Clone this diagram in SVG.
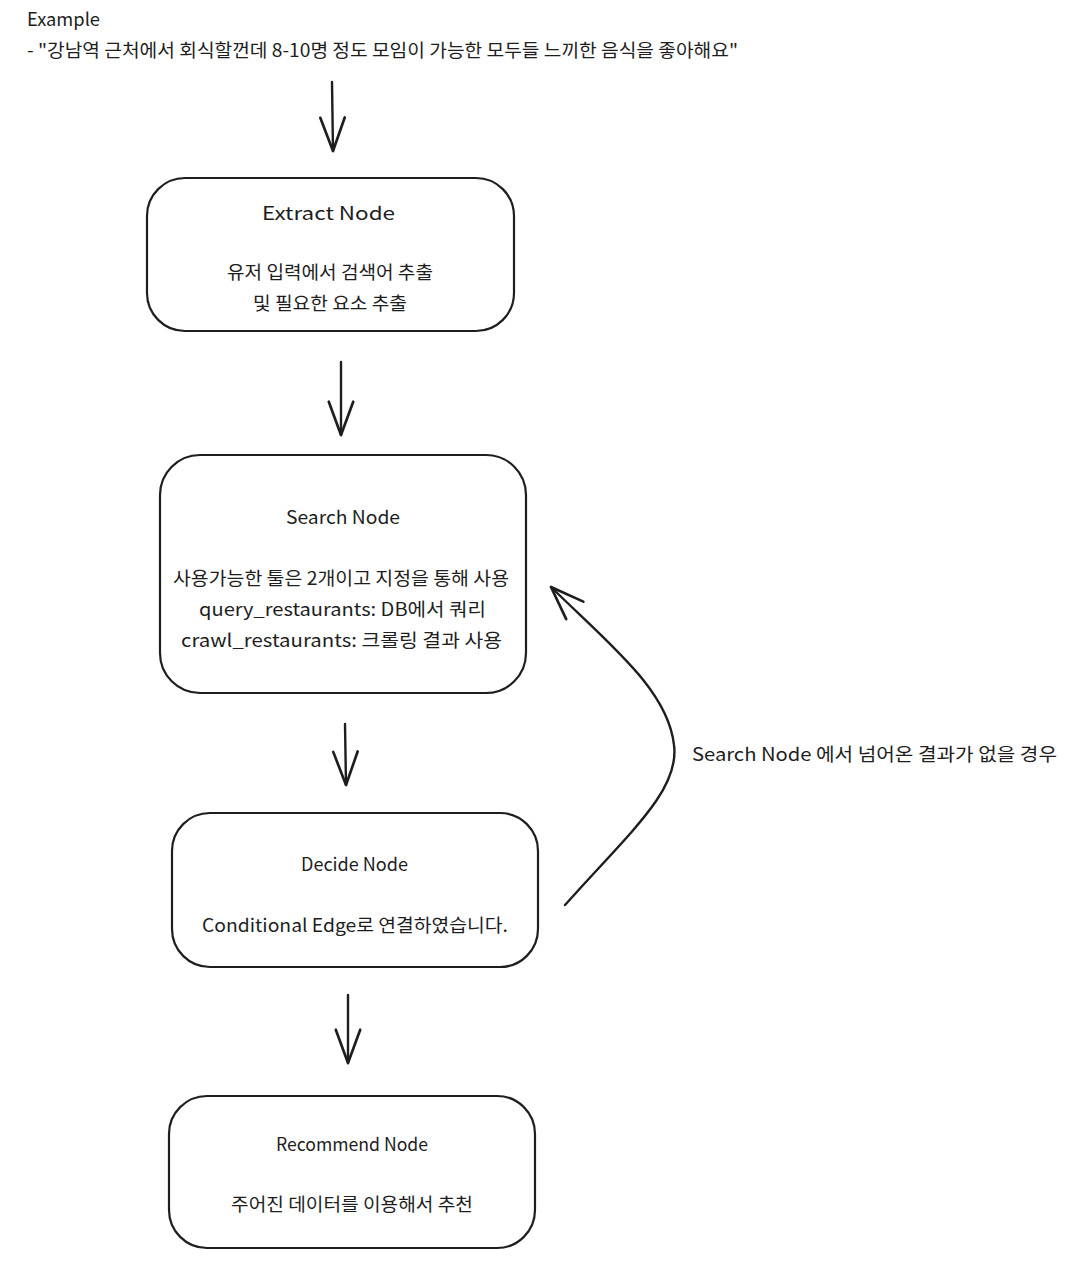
<svg xmlns="http://www.w3.org/2000/svg" width="1090" height="1276" viewBox="0 0 1090 1276">
<defs>
<style>
text{font-family:"Noto Sans CJK KR","Noto Sans",sans-serif;font-size:18px;fill:#1e1e1e}
.c{text-anchor:middle}
.box{fill:#fff;stroke:#1e1e1e;stroke-width:2.2}
.edge{fill:none;stroke:#1e1e1e;stroke-width:2.4;stroke-linecap:round}
</style>
<marker id="ah" markerUnits="userSpaceOnUse" markerWidth="40" markerHeight="40" viewBox="-32 -16 36 32" refX="0" refY="0" orient="auto">
<path d="M-30,-11 L0,0 L-30,11" fill="none" stroke="#1e1e1e" stroke-width="2.4" stroke-linecap="round" stroke-linejoin="round"/>
</marker>
</defs>
<rect width="1090" height="1276" fill="#fff"/>
<g id="example">
<text x="27" y="26" textLength="73" lengthAdjust="spacingAndGlyphs">Example</text>
<text x="27" y="57" textLength="711" lengthAdjust="spacingAndGlyphs">- "강남역 근처에서 회식할껀데 8-10명 정도 모임이 가능한 모두들 느끼한 음식을 좋아해요"</text>
</g>
<g id="edges">
<path class="edge" d="M332,82 L333,151" marker-end="url(#ah)"/>
<path class="edge" d="M341,362 L341,435" marker-end="url(#ah)"/>
<path class="edge" d="M345,724 L346,785" marker-end="url(#ah)"/>
<path class="edge" d="M348,995 L348,1063" marker-end="url(#ah)"/>
<path class="edge" d="M565,905 C630,832 680,790 674,745 C668,690 610,645 551,587" marker-end="url(#ah)"/>
<text x="692" y="761" textLength="365" lengthAdjust="spacingAndGlyphs">Search Node 에서 넘어온 결과가 없을 경우</text>
</g>
<g id="extract">
<rect class="box" x="147" y="178" width="367" height="153" rx="38"/>
<text class="c" x="328.5" y="220" textLength="133" lengthAdjust="spacingAndGlyphs">Extract Node</text>
<text class="c" x="330" y="279" textLength="206" lengthAdjust="spacingAndGlyphs">유저 입력에서 검색어 추출</text>
<text class="c" x="330" y="310" textLength="154" lengthAdjust="spacingAndGlyphs">및 필요한 요소 추출</text>
</g>
<g id="search">
<rect class="box" x="160" y="455" width="366" height="238" rx="40"/>
<text class="c" x="343" y="524" textLength="114" lengthAdjust="spacingAndGlyphs">Search Node</text>
<text class="c" x="341" y="585" textLength="336" lengthAdjust="spacingAndGlyphs">사용가능한 툴은 2개이고 지정을 통해 사용</text>
<text class="c" x="342.5" y="616" textLength="287" lengthAdjust="spacingAndGlyphs">query_restaurants: DB에서 쿼리</text>
<text class="c" x="341.5" y="647" textLength="321" lengthAdjust="spacingAndGlyphs">crawl_restaurants: 크롤링 결과 사용</text>
</g>
<g id="decide">
<rect class="box" x="172" y="813" width="366" height="154" rx="38"/>
<text class="c" x="354.5" y="871" textLength="107" lengthAdjust="spacingAndGlyphs">Decide Node</text>
<text class="c" x="355" y="932" textLength="306" lengthAdjust="spacingAndGlyphs">Conditional Edge로 연결하였습니다.</text>
</g>
<g id="recommend">
<rect class="box" x="169" y="1096" width="366" height="152" rx="38"/>
<text class="c" x="352" y="1151" textLength="152" lengthAdjust="spacingAndGlyphs">Recommend Node</text>
<text class="c" x="352" y="1211" textLength="242" lengthAdjust="spacingAndGlyphs">주어진 데이터를 이용해서 추천</text>
</g>
</svg>
